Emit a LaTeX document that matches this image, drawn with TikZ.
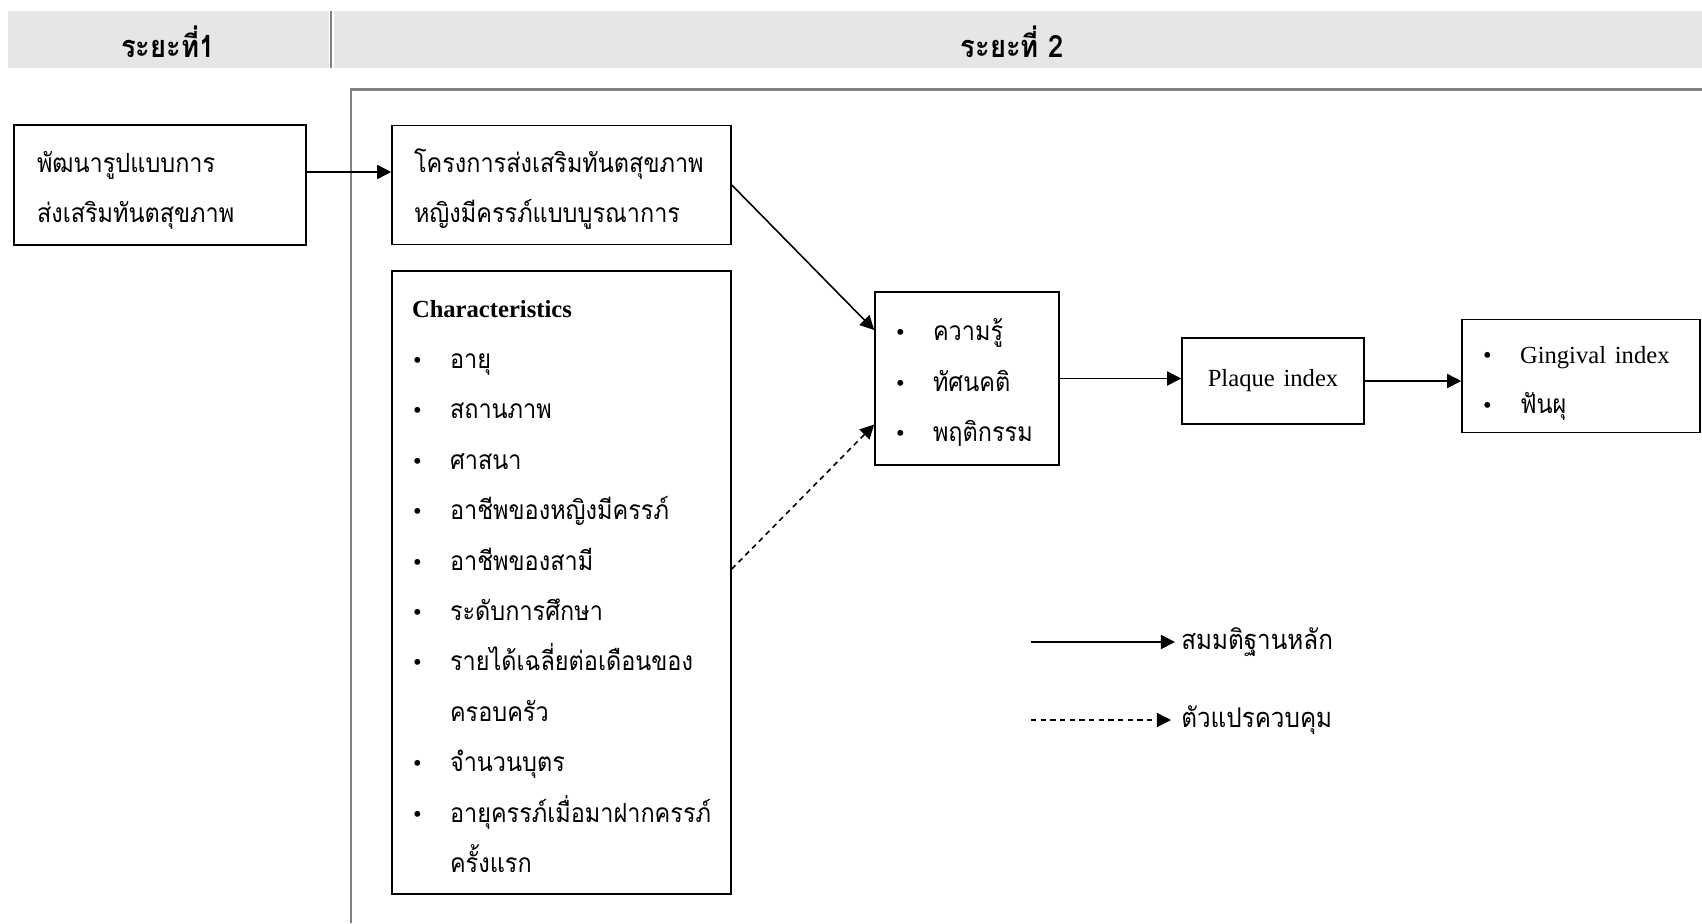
\documentclass[tikz,border=0pt]{standalone}
\usepackage{fontspec}
\setmainfont{Liberation Serif}
\newfontfamily\thaifont[Script=Thai, FakeStretch=0.89]{Loma}
\usetikzlibrary{arrows.meta}
\definecolor{bandgray}{HTML}{E6E6E6}
\definecolor{framegray}{HTML}{808080}
\newcommand{\boxtop}{\rule{0pt}{23.5pt}}
\newcommand{\boxbottom}{\rule{0pt}{0pt}\rule[-9pt]{0pt}{9pt}}
\tikzstyle{plainbox} = [rectangle, draw=black, line width=0.9pt, align=left, inner xsep=0.4cm, inner ysep=0pt, font=\thaifont\fontsize{15}{28.7}\selectfont]
\tikzstyle{box} = [plainbox, execute at begin node=\boxtop, execute at end node=\boxbottom]
\tikzstyle{head} = [font=\thaifont\bfseries\fontsize{17.5}{18}\selectfont]
\tikzstyle{legtext} = [anchor=west, inner xsep=0.12cm, font=\thaifont\fontsize{15.5}{16}\selectfont]
\tikzstyle{arrow} = [line width=0.9pt, -{Triangle[length=8pt,width=8pt]}]
\tikzstyle{ctrl} = [arrow, dash pattern=on 3pt off 2.5pt]
\newcommand{\bl}{\makebox[0.76cm][l]{\hspace{0.02cm}{\rmfamily\fontsize{14}{16}\selectfont\textbullet}}}

\begin{document}
\begin{tikzpicture}[node distance=1cm]
           \useasboundingbox (0,0) rectangle (34.04,-18.46);
           \fill [bandgray] (0.16,-0.22) rectangle (6.58,-1.36);
           \fill [bandgray] (6.68,-0.22) rectangle (34.04,-1.36);
           \draw [framegray, line width=1.7pt] (6.62,-0.22) -- (6.62,-1.36);
           \draw [framegray, line width=1.7pt] (7.02,-18.46) -- (7.02,-1.78) -- (34.04,-1.78);
           \node (phase1) [head] at (3.36,-0.84) {ระยะที่1};
           \node (phase2) [head] at (20.24,-0.84) {ระยะที่ 2};

           \node (plan) [box, inner xsep=0.46cm, text width=4.92cm, minimum height=2.4cm] at (3.2,-3.7) {พัฒนารูปแบบการ\\ส่งเสริมทันตสุขภาพ};
           \node (project) [box, inner xsep=0.44cm, text width=5.9cm, minimum height=2.38cm, right of=plan, xshift=7.03cm] {โครงการส่งเสริมทันตสุขภาพ\\หญิงมีครรภ์แบบบูรณาการ};
           \node (chars) [box, text width=5.98cm, minimum height=12.46cm, below of=project, yshift=-6.95cm] {{\rmfamily\bfseries\fontsize{14}{16}\selectfont Characteristics}\\
             \bl อายุ\\ \bl สถานภาพ\\ \bl ศาสนา\\ \bl อาชีพของหญิงมีครรภ์\\ \bl อาชีพของสามี\\ \bl ระดับการศึกษา\\
             \bl รายได้เฉลี่ยต่อเดือนของ\\ \hspace*{0.76cm}ครอบครัว\\ \bl จำนวนบุตร\\ \bl อายุครรภ์เมื่อมาฝากครรภ์\\ \hspace*{0.76cm}ครั้งแรก};
           \node (kap) [box, text width=2.88cm, minimum height=3.46cm] at (19.34,-7.57) {\bl ความรู้\\ \bl ทัศนคติ\\ \bl พฤติกรรม};
           \node (plaque) [plainbox, align=center, text width=2.84cm, minimum height=1.72cm, right of=kap, xshift=5.12cm, yshift=-0.05cm] {\rmfamily\fontsize{14}{16}\selectfont Plaque index};
           \node (gingival) [box, text width=3.96cm, minimum height=2.26cm, right of=plaque, xshift=5.16cm, yshift=0.1cm] {\bl{\rmfamily\fontsize{14}{16}\selectfont Gingival index}\\ \bl ฟันผุ};

           \node (mainleg) [legtext] at (23.5,-12.84) {สมมติฐานหลัก};
           \node (ctrlleg) [legtext] at (23.5,-14.4) {ตัวแปรควบคุม};
           \coordinate (mainstart) at (20.62,-12.84);
           \coordinate (ctrlstart) at (20.62,-14.4);
           \coordinate (planout) at ([yshift=0.26cm]plan.east);

           \draw [arrow] (planout) -- (planout -| project.west);
           \draw [arrow] (project.east) -- ([yshift=0.97cm]kap.west);
           \draw [ctrl] ([yshift=0.27cm]chars.east) -- ([yshift=-0.92cm]kap.west);
           \draw [arrow] (kap.east) -- (kap.east -| plaque.west);
           \draw [arrow] (plaque.east) -- (plaque.east -| gingival.west);
           \draw [arrow] (mainstart) -- (mainleg.west);
           \draw [ctrl] (ctrlstart) -- ([xshift=-0.08cm]ctrlleg.west);
        \end{tikzpicture}
\end{document}
